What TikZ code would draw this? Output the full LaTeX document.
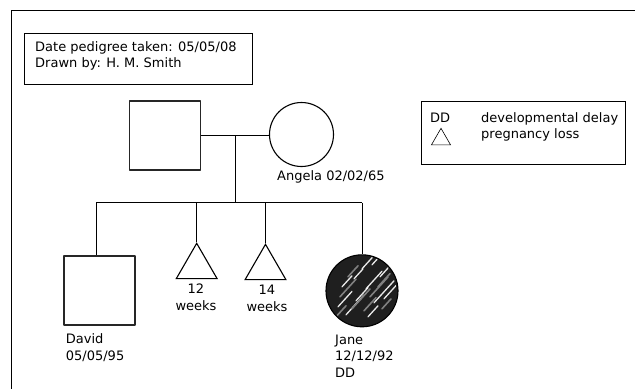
\documentclass[tikz,border=0pt]{standalone}
\usepackage{fontspec}
\setmainfont{DejaVu Sans}
\usetikzlibrary{shapes.geometric,calc}

\tikzset{
  sketch/.style={draw=black!85,line width=1.6pt,line join=round},
  male/.style={sketch,rectangle,minimum width=71pt,minimum height=69pt,inner sep=0pt},
  female/.style={draw,line width=1.1pt,circle,inner sep=0pt},
  loss/.style={draw,line width=1.1pt,regular polygon,regular polygon sides=3,inner sep=0pt,minimum size=47pt},
  lbl/.style={font=\fontsize{13}{16.7}\selectfont,inner sep=0pt,align=left},
  line/.style={line width=0.8pt},
  box/.style={line width=0.8pt},
}

\begin{document}
\begin{tikzpicture}[x=1pt,y=-1pt]
\useasboundingbox (0,0) rectangle (635,389);
% frame
\draw[box] (635,10.5) -- (11,10.5) -- (11,389);
% info box
\draw[box] (24,33.5) rectangle (252,84);
\node[lbl,anchor=north west] (info) at (35,41) {Date pedigree taken: 05/05/08\\Drawn by: H. M. Smith};
% legend
\draw[box] (421,101) rectangle (625,164);
\node[lbl,anchor=north west] (keydd) at (430,113.3) {DD};
\node[lbl,anchor=north west,font=\fontsize{13}{15.6}\selectfont] (keytext) at (481,112.8) {developmental delay\\pregnancy loss};
\node[draw,line width=0.6pt,regular polygon,regular polygon sides=3,inner sep=0pt,minimum size=22pt] (keyloss) at (441,139.3) {};

% parents
\node[male] (father) at (165,135.5) {};
\node[female,minimum size=64pt] (mother) at (301.5,134.5) {};
\node[lbl,anchor=base west] (angela) at (277,180.7) {Angela 02/02/65};
\coordinate (mate) at (235.3,135);
\coordinate (sib) at (235.3,202.7);
\draw[line] (father.east |- mate) -- (mother.west |- mate);
\draw[line] (mate) -- (sib);

% children
\node[male] (david) at (99.5,290.5) {};
\node[loss] (loss12) at (196.7,266.8) {};
\node[loss] (loss14) at (265.5,267.8) {};
\node[female,minimum size=72pt,fill=black!88,draw=black] (jane) at (362,290.8) {};
\begin{scope}
  \clip (jane.center) circle (35pt);
  \foreach \dx/\dy/\len in {-24/16/14,-16/24/18,-6/10/12,4/-2/16,12/12/20,-20/-4/10,0/-22/12,18/-14/14,6/26/10,22/8/12,-8/-12/9,10/-26/9}
    \draw[white,line width=1.3pt,line cap=round,opacity=0.9] ($(jane.center)+(\dx,\dy)$) -- ++(\len,-1.1*\len);
  \foreach \dx/\dy/\len in {-22/6/16,-10/18/18,8/6/18,16/-4/12,-14/-14/10,2/20/12,20/18/9,-26/26/10}
    \draw[black!50,line width=1.6pt,line cap=round] ($(jane.center)+(\dx,\dy)$) -- ++(\len,-1.1*\len);
\end{scope}
\coordinate (sibL) at (96.3,202.7);
\coordinate (sibR) at (jane.north |- sib);
\draw[line] (sibL) -- (sibR);
\draw[line] (sibL) -- (sibL |- david.north);
\draw[line] (loss12.north |- sib) -- (loss12.north);
\draw[line] (loss14.north |- sib) -- (loss14.north);
\draw[line] (sibR) -- (jane.north);

% labels
\node[lbl,anchor=north west] (davidlbl) at (65.7,333.4) {David\\05/05/95};
\node[lbl,anchor=north,align=center] (w12) at (196,284) {12\\weeks};
\node[lbl,anchor=north,align=center] (w14) at (267,285) {14\\weeks};
\node[lbl,anchor=north west] (janelbl) at (335,334.5) {Jane\\12/12/92\\DD};
\end{tikzpicture}
\end{document}
